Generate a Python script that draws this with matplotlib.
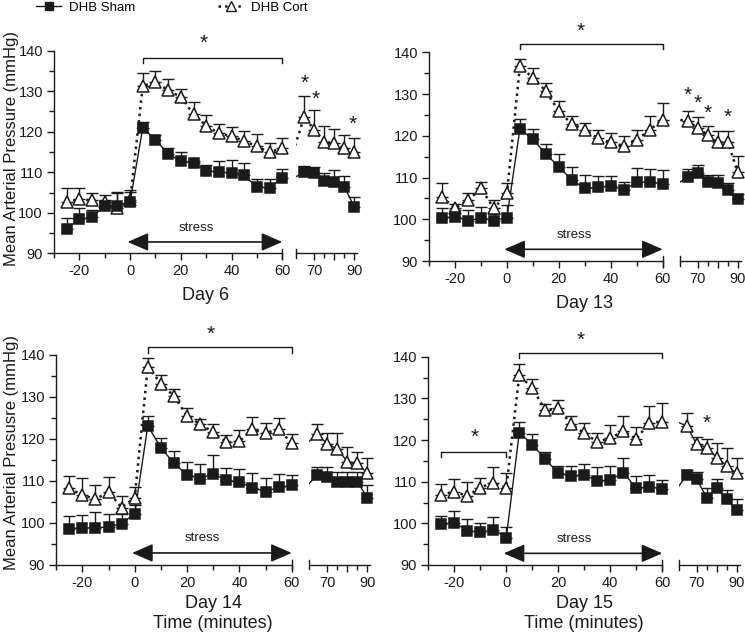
import matplotlib
matplotlib.use("Agg")
import matplotlib.pyplot as plt
from matplotlib.ticker import MultipleLocator, FixedLocator
from matplotlib.lines import Line2D
import numpy as np

plt.rcParams['font.family'] = ['Liberation Sans', 'DejaVu Sans']
plt.rcParams['axes.unicode_minus'] = False

# time points (minutes); first 18 before the break, last 6 after it
times = [-25, -20, -15, -10, -5, 0, 5, 10, 15, 20, 25, 30, 35, 40, 45, 50, 55, 60,
         65, 70, 75, 80, 85, 90]

# Day 6
sham6 = [96.1, 98.4, 99.0, 101.7, 101.7, 102.7, 121.0, 118.0, 114.6, 112.7, 112.3, 110.3,
         110.1, 109.8, 109.3, 106.3, 106.2, 108.7, 110.0, 109.8, 107.9, 107.6, 106.4, 101.5]
sham6_err = [2.5, 2.8, 1.7, 1.5, 3.3, 2.5, 1.3, 1.3, 1.5, 2.3, 0.6, 1.5,
             2.6, 3.2, 3.1, 2.0, 2.1, 2.1, 1.6, 1.6, 2.0, 2.9, 2.7, 2.4]
cort6 = [102.7, 103.3, 103.1, 102.7, 101.1, 103.1, 131.3, 132.3, 130.2, 128.6, 124.3, 121.5,
         119.6, 118.9, 117.7, 116.4, 114.9, 116.0, 123.7, 120.4, 117.5, 117.1, 115.9, 114.9]
cort6_err = [3.3, 2.9, 1.8, 1.8, 4.1, 2.5, 3.2, 2.7, 2.7, 1.9, 3.1, 2.6,
             2.3, 2.3, 2.6, 3.0, 2.2, 2.4, 5.1, 4.9, 3.9, 3.6, 3.4, 3.6]

# Day 13
sham13 = [100.4, 100.6, 99.7, 100.2, 99.7, 100.4, 121.6, 119.2, 115.6, 112.6, 109.4, 107.4,
          107.7, 108.0, 107.0, 108.9, 108.9, 108.5, 110.2, 111.2, 108.9, 108.6, 107.0, 104.8]
sham13_err = [2.4, 1.5, 2.5, 2.8, 1.5, 3.0, 2.4, 2.4, 2.4, 3.0, 3.1, 3.2,
              2.7, 2.4, 2.0, 3.3, 3.1, 3.3, 1.8, 1.8, 1.7, 2.0, 1.8, 1.3]
cort13 = [105.4, 102.6, 104.5, 107.4, 102.6, 106.2, 136.6, 133.9, 130.7, 125.9, 122.8, 121.5,
          119.4, 118.4, 117.6, 119.0, 121.4, 123.9, 123.5, 121.9, 120.2, 118.4, 118.6, 111.3]
cort13_err = [3.2, 1.0, 1.7, 1.5, 2.0, 2.5, 1.8, 2.4, 1.9, 2.4, 2.0, 1.5,
              2.1, 2.2, 2.3, 2.5, 3.4, 4.0, 2.4, 2.7, 2.2, 2.8, 2.6, 3.9]

# Day 14
sham14 = [98.6, 98.8, 98.8, 99.0, 99.8, 102.2, 123.1, 117.9, 114.2, 111.4, 110.5, 111.7,
          110.1, 109.6, 108.4, 107.4, 108.5, 108.9, 111.4, 111.0, 109.8, 109.8, 109.8, 106.0]
sham14_err = [3.0, 3.0, 3.8, 3.2, 2.4, 2.0, 2.4, 2.4, 2.8, 3.2, 3.5, 4.4,
              3.0, 3.3, 3.5, 3.3, 3.1, 2.5, 1.8, 2.3, 2.4, 2.4, 2.4, 3.0]
cort14 = [108.2, 106.6, 105.6, 107.4, 103.6, 106.0, 137.2, 133.2, 130.2, 125.5, 123.5, 121.6,
          119.2, 119.4, 122.3, 121.4, 122.3, 119.0, 121.1, 118.8, 117.6, 114.6, 114.2, 111.8]
cort14_err = [3.0, 4.0, 3.4, 3.6, 2.8, 2.6, 2.2, 2.1, 1.6, 1.9, 1.3, 2.0,
              1.8, 2.8, 2.8, 2.5, 2.6, 2.2, 2.5, 2.6, 3.8, 3.4, 2.7, 3.6]

# Day 15
sham15 = [99.8, 100.2, 98.2, 97.9, 98.5, 96.6, 121.8, 118.9, 115.4, 112.0, 111.4, 111.6,
          110.2, 110.4, 112.2, 108.4, 108.8, 108.2, 111.6, 110.6, 106.2, 108.4, 105.8, 103.2]
sham15_err = [2.0, 2.8, 2.8, 2.1, 3.1, 2.6, 2.6, 2.5, 1.8, 1.8, 2.4, 2.6,
              3.4, 3.4, 3.4, 3.0, 2.8, 2.2, 1.2, 1.8, 2.4, 2.2, 2.2, 2.6]
cort15 = [106.8, 107.6, 106.6, 108.6, 109.8, 108.6, 135.6, 132.4, 127.2, 127.6, 123.8, 121.6,
          119.6, 120.4, 122.2, 120.2, 124.2, 124.4, 123.4, 119.0, 118.2, 115.8, 113.8, 112.0]
cort15_err = [2.6, 3.0, 3.4, 2.4, 3.7, 3.6, 2.6, 2.2, 1.4, 2.0, 2.0, 2.6,
              2.0, 3.2, 3.6, 3.0, 4.0, 4.6, 3.0, 1.8, 2.0, 3.6, 4.2, 3.8]

day_labels = ["Day 6", "Day 13", "Day 14", "Day 15"]
main_ticks = [-20, 0, 20, 40, 60]
late_ticks = [70, 80, 90]
late_ticklabels = ["70", "", "90"]

# significance marks: main bracket height, star position, extra stars after the break
brk_y = [138.3, 142.1, 141.8, 141.0]
brk_star = [(29, 141.9), (28.5, 145.0), (29, 144.9), (28.7, 143.9)]
late_stars = [[(65, 132.0), (70.8, 128.1), (89.2, 121.9)],
              [(65, 129.7), (70, 127.7), (75, 125.3), (85, 124.5)],
              [],
              [(75, 123.9)]]

K = '#1a1a1a'
W, H = 745, 635
fig = plt.figure(figsize=(W / 100, H / 100), dpi=100)

# pixel boxes: main (left, right, top, bottom), x-position of 70 on the post-break axis
boxes = [((54, 282.3, 50.7, 253.3), 314.3),
         ((429, 662.7, 52.3, 261), 697.7),
         ((56.2, 291.7, 355, 564.7), 327.3),
         ((428.3, 662.3, 356.7, 565), 696.7)]
day_y = [295, 304, 603, 603]

data = [(sham6, sham6_err, cort6, cort6_err),
        (sham13, sham13_err, cort13, cort13_err),
        (sham14, sham14_err, cort14, cort14_err),
        (sham15, sham15_err, cort15, cort15_err)]

t = np.array(times)
pre = t <= 60
post = t >= 65


def add_px(l, r, top, b):
    return fig.add_axes([l / W, 1 - b / H, (r - l) / W, (b - top) / H])


def draw_series(ax, mask, sham, se, cort, ce, cort_ls):
    sham, se, cort, ce = map(np.array, (sham, se, cort, ce))
    ax.plot(t, cort, ls=cort_ls, color=K, lw=1.8 if cort_ls == ':' else 1.0, zorder=2)
    ax.plot(t, sham, ls='-', color=K, lw=1.0, zorder=2)
    for y, e, mk, fc, ms in [(cort, ce, '^', 'white', 8), (sham, se, 's', K, 6.5)]:
        ax.errorbar(t[mask], y[mask], yerr=[np.zeros(mask.sum()), e[mask]], fmt='none',
                    ecolor=K, elinewidth=1.0, capsize=4.5, capthick=1.0,
                    clip_on=False, zorder=3)
        ax.plot(t[mask], y[mask], ls='none', marker=mk, ms=ms, mfc=fc, mec=K, mew=1.1,
                clip_on=False, zorder=4)


for i, ((l, r, top, b), x70) in enumerate(boxes):
    sham, se, cort, ce = data[i]
    ax = add_px(l, r, top, b)
    ax2 = add_px(x70 - 18, x70 + 43, top, b)

    draw_series(ax, pre, sham, se, cort, ce, ':')
    draw_series(ax2, post, sham, se, cort, ce, ':' if i < 2 else '-')

    ax.set_xlim(-30, 60)
    ax.set_ylim(90, 140)
    ax.set_xticks(main_ticks)
    ax.xaxis.set_minor_locator(MultipleLocator(10))
    ax.yaxis.set_major_locator(MultipleLocator(10))
    ax.yaxis.set_minor_locator(MultipleLocator(5))
    for s in ('top', 'right'):
        ax.spines[s].set_visible(False)

    ax2.set_xlim(61, 91.5)
    ax2.set_ylim(90, 140)
    ax2.set_xticks(late_ticks, late_ticklabels)
    ax2.xaxis.set_minor_locator(FixedLocator([75, 85]))
    ax2.set_yticks([])
    for s in ('top', 'right', 'left'):
        ax2.spines[s].set_visible(False)
    ax2.patch.set_alpha(0)

    for a in (ax, ax2):
        a.spines['bottom'].set_linewidth(1.0)
        a.spines['left'].set_linewidth(1.0)
        a.spines['bottom'].set_color(K)
        a.spines['left'].set_color(K)
        a.tick_params(which='major', direction='out', length=5, width=1.0, colors=K,
                      labelsize=10.5, pad=3)
        a.tick_params(which='minor', direction='out', length=3.5, width=1.0, colors=K)

    # break marks crossing the axis line
    ax.add_line(Line2D([1, 1], [-0.022, 0.022], transform=ax.transAxes, color=K, lw=1.0,
                       clip_on=False))
    ax2.add_line(Line2D([0, 0], [-0.022, 0.022], transform=ax2.transAxes, color=K, lw=1.0,
                        clip_on=False))

    # stress arrow
    ax.annotate('', xy=(60, 92.8), xytext=(-1, 92.8),
                arrowprops=dict(arrowstyle='<|-|>,head_length=1.5,head_width=0.65',
                                mutation_scale=8.5, color=K, lw=1.2, shrinkA=0, shrinkB=0))
    ax.text(26, 96.3, 'stress', ha='center', va='center', fontsize=9.5, color=K)

    # significance bracket
    yb = brk_y[i]
    ax.plot([5, 5, 60, 60], [yb - 1.3, yb, yb, yb - 1.3], color=K, lw=1.0, clip_on=False)
    ax.text(*brk_star[i], '*', ha='center', va='center', fontsize=15, color=K)
    for (sx, sy) in late_stars[i]:
        ax2.text(sx, sy, '*', ha='center', va='center', fontsize=15, color=K)
    if i == 3:
        ax.plot([-25, -25, 0, 0], [116.0, 117.2, 117.2, 116.0], color=K, lw=1.0)
        ax.text(-12.3, 120.7, '*', ha='center', va='center', fontsize=15, color=K)

    # panel labels
    cx = (l + x70 + 43) / 2
    fig.text(cx / W, 1 - day_y[i] / H, day_labels[i], ha='center', va='center',
             fontsize=13, color=K)
    if i >= 2:
        fig.text(cx / W, 1 - 623 / H, 'Time (minutes)', ha='center', va='center',
                 fontsize=13, color=K)

fig.text(12 / W, 1 - 149 / H, 'Mean Arterial Pressure (mmHg)', rotation=90,
         ha='center', va='center', fontsize=12, color=K)
fig.text(12 / W, 1 - 453 / H, 'Mean Arterial Presusre (mmHg)', rotation=90,
         ha='center', va='center', fontsize=12, color=K)

# legend
h_sham = Line2D([], [], color=K, lw=1.0, marker='s', ms=5.5, mfc=K, mec=K)
h_cort = Line2D([], [], color=K, lw=1.8, ls=':', marker='^', ms=7, mfc='white', mec=K)
fig.legend([h_sham, h_cort], ['DHB Sham', 'DHB Cort'], loc='center left',
           bbox_to_anchor=(36 / W, 1 - 8 / H), ncol=2, frameon=False, fontsize=9.5,
           handlelength=1.9, handletextpad=0.6, columnspacing=6.3, borderpad=0,
           borderaxespad=0)

fig.savefig('out.png', dpi=100)
